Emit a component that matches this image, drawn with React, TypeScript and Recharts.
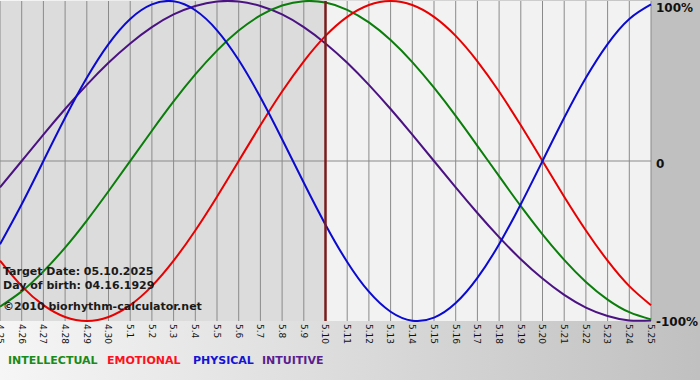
import { LineChart, Line, XAxis, YAxis, CartesianGrid, ReferenceLine } from 'recharts'

const dayLabels = [
  '4.25', '4.26', '4.27', '4.28', '4.29', '4.30',
  '5.1', '5.2', '5.3', '5.4', '5.5', '5.6', '5.7', '5.8', '5.9', '5.10',
  '5.11', '5.12', '5.13', '5.14', '5.15', '5.16', '5.17', '5.18', '5.19', '5.20',
  '5.21', '5.22', '5.23', '5.24', '5.25',
]

const physical = [
  -52.0, -27.0, 0, 27.0, 52.0, 73.1, 88.8, 97.9, 99.8, 94.2, 81.7, 63.1, 39.8, 13.6, -13.6, -39.8,
  -63.1, -81.7, -94.2, -99.8, -97.9, -88.8, -73.1, -52.0, -27.0, 0, 27.0, 52.0, 73.1, 88.8, 97.9,
]
const emotional = [
  -62.3, -78.2, -90.1, -97.5, -100, -97.5, -90.1, -78.2, -62.3, -43.4, -22.3, 0, 22.3, 43.4, 62.3, 78.2,
  90.1, 97.5, 100, 97.5, 90.1, 78.2, 62.3, 43.4, 22.3, 0, -22.3, -43.4, -62.3, -78.2, -90.1,
]
const intellectual = [
  -91.0, -81.5, -69.0, -54.1, -37.2, -18.9, 0, 18.9, 37.2, 54.1, 69.0, 81.5, 91.0, 97.2, 99.9, 99.0,
  94.5, 86.6, 75.6, 61.8, 45.8, 28.2, 9.5, -9.5, -28.2, -45.8, -61.8, -75.6, -86.6, -94.5, -99.0,
]
const intuitive = [
  -16.5, 0, 16.5, 32.5, 47.6, 61.4, 73.5, 83.7, 91.6, 96.9, 99.7, 99.7, 96.9, 91.6, 83.7, 73.5,
  61.4, 47.6, 32.5, 16.5, 0, -16.5, -32.5, -47.6, -61.4, -73.5, -83.7, -91.6, -96.9, -99.7, -99.7,
]

const yTicks = [100, 0, -100]
const yTickLabels: Record<number, string> = { 100: '100%', 0: '0', [-100]: '-100%' }
const targetIndex = 15

const data = dayLabels.map((day, i) => ({
  idx: i,
  day,
  physical: physical[i],
  emotional: emotional[i],
  intellectual: intellectual[i],
  intuitive: intuitive[i],
}))

// days before the target date are shaded darker
const stripeFills = dayLabels.slice(1).map((_, i) => (i < targetIndex ? '#dcdcdc' : '#f2f2f2'))

const font = '"DejaVu Sans", Verdana, sans-serif'

const XTick = (props: any) => {
  const { x, y, payload } = props
  return (
    <g transform={`translate(${x},${y})`}>
      <text transform="rotate(90)" x={0} y={0} dy="0.35em" textAnchor="start" fontSize={9} fontFamily={font} fill="#111">
        {dayLabels[payload.value]}
      </text>
    </g>
  )
}

const YTick = (props: any) => {
  const { x, y, payload } = props
  const shift = payload.value === 100 ? 7 : payload.value === 0 ? 3 : 1
  return (
    <text x={x} y={y + shift} dy="0.35em" textAnchor="start" fontSize={12} fontWeight="bold" fontFamily={font} fill="#111">
      {yTickLabels[payload.value]}
    </text>
  )
}

const infoStyle = { position: 'absolute' as const, left: 3, fontFamily: font, fontSize: 11, fontWeight: 'bold' as const, color: '#1a1a1a', lineHeight: '13px' }
const legendItems = [
  { label: 'INTELLECTUAL', color: '#1a8a1a', left: 8 },
  { label: 'EMOTIONAL', color: '#ff1020', left: 107 },
  { label: 'PHYSICAL', color: '#1414d4', left: 193 },
  { label: 'INTUITIVE', color: '#5a1e8e', left: 262 },
]

export default function App() {
  return (
    <div style={{ position: 'absolute', left: 0, top: 0, width: 700, height: 380, overflow: 'hidden', background: 'linear-gradient(to right, #f6f6f6, #c0c0c0)' }}>
      <div style={{ position: 'absolute', left: 651, top: 0, width: 49, height: 322, background: '#c0c0c0' }} />
      <div style={{ position: 'absolute', left: 0, top: 0 }}>
        <LineChart width={700} height={380} data={data} margin={{ top: 1, right: 0, bottom: 0, left: 0 }}>
          <CartesianGrid horizontal={false} stroke="#8a8a8a" strokeWidth={1} verticalFill={stripeFills} fillOpacity={1} />
          <ReferenceLine y={0} stroke="#8a8a8a" strokeWidth={1} />
          <XAxis
            dataKey="idx"
            type="number"
            domain={[0, 30]}
            ticks={dayLabels.map((_, i) => i)}
            interval={0}
            tick={<XTick />}
            tickLine={false}
            axisLine={false}
            tickSize={0}
            tickMargin={3}
            height={59}
          />
          <YAxis
            orientation="right"
            domain={[-100, 100]}
            ticks={yTicks}
            interval={0}
            tick={<YTick />}
            tickLine={false}
            axisLine={false}
            tickSize={0}
            tickMargin={5}
            width={49}
          />
          <Line type="natural" dataKey="intuitive" stroke="#4b1282" strokeWidth={2} dot={false} isAnimationActive={false} />
          <Line type="natural" dataKey="intellectual" stroke="#0b7d0b" strokeWidth={2} dot={false} isAnimationActive={false} />
          <Line type="natural" dataKey="emotional" stroke="#e80000" strokeWidth={2} dot={false} isAnimationActive={false} />
          <Line type="natural" dataKey="physical" stroke="#0a0ad0" strokeWidth={2} dot={false} isAnimationActive={false} />
          <ReferenceLine x={targetIndex} stroke="#7b1c1c" strokeWidth={2.5} />
        </LineChart>
      </div>
      <div style={{ ...infoStyle, top: 265 }}>Target Date: 05.10.2025</div>
      <div style={{ ...infoStyle, top: 279 }}>Day of birth: 04.16.1929</div>
      <div style={{ ...infoStyle, top: 300 }}>©2010 biorhythm-calculator.net</div>
      {legendItems.map((item) => (
        <div key={item.label} style={{ position: 'absolute', left: item.left, top: 354, fontFamily: font, fontSize: 11, fontWeight: 'bold', color: item.color, lineHeight: '14px' }}>
          {item.label}
        </div>
      ))}
    </div>
  )
}
